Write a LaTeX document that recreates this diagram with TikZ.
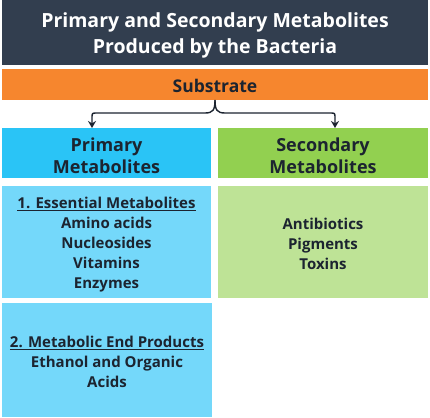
\documentclass[tikz,border=0pt]{standalone}
\usepackage{fontspec}
\setmainfont{Open Sans}
\usetikzlibrary{arrows.meta}
\definecolor{titlebg}{HTML}{323E4F}
\definecolor{orangebg}{HTML}{F6862E}
\definecolor{cyanbg}{HTML}{2AC4F6}
\definecolor{cyanlt}{HTML}{74D8FA}
\definecolor{greenbg}{HTML}{92D050}
\definecolor{greenlt}{HTML}{BEE396}
\definecolor{txt}{HTML}{1C2430}
\begin{document}
\begin{tikzpicture}[x=1pt,y=-1pt,
  box/.style={rectangle, inner sep=0pt, outer sep=0pt},
  lbl/.style={inner sep=0pt, align=center, text=txt},
  hdr/.style={lbl, font=\fontsize{18}{22}\selectfont\bfseries},
  lst/.style={lbl, font=\fontsize{15}{20}\selectfont\bfseries},
  conn/.style={line width=1.4pt, txt}]
\useasboundingbox (0,0) rectangle (430,417);
\fill[white] (0,0) rectangle (430,417);
% boxes
\node[box, fill=titlebg, minimum width=426pt, minimum height=65pt] (title) at (215,32.5) {};
\node[box, fill=orangebg, minimum width=426pt, minimum height=31pt] (sub) at (215,84.5) {};
\node[box, fill=cyanbg, minimum width=209pt, minimum height=50pt] (prim) at (106.5,153) {};
\node[box, fill=greenbg, minimum width=210pt, minimum height=50pt] (sec) at (323,153) {};
\node[box, fill=cyanlt, minimum width=209pt, minimum height=112pt] (ess) at (106.5,242) {};
\node[box, fill=greenlt, minimum width=210pt, minimum height=112pt] (secl) at (323,242) {};
\node[box, fill=cyanlt, minimum width=210pt, minimum height=114pt] (end) at (107,360) {};
% texts
\node[lbl, text=white, font=\fontsize{19.5}{26}\selectfont\bfseries] (titlet) at ([yshift=-3pt]title.center)
  {Primary and Secondary Metabolites\\Produced by the Bacteria};
\node[lbl, font=\fontsize{17.5}{20}\selectfont\bfseries] (subt) at ([yshift=-1pt]sub.center) {Substrate};
\node[hdr] (primt) at ([yshift=-3pt]prim.center) {Primary\\Metabolites};
\node[hdr] (sect) at ([yshift=-3pt]sec.center) {Secondary\\Metabolites};
\node[lst] (esst) at ([yshift=-3pt]ess.center)
  {\underline{1. Essential Metabolites}\\Amino acids\\Nucleosides\\Vitamins\\Enzymes};
\node[lst] (seclt) at ([yshift=-2pt]secl.center) {Antibiotics\\Pigments\\Toxins};
\node[lst] (endt) at ([yshift=-1.5pt]end.center)
  {\underline{2. Metabolic End Products}\\Ethanol and Organic\\Acids};
% connectors
\coordinate (bl) at (92,113);
\coordinate (br) at (335,113);
\draw[conn, -{Stealth[length=7pt,width=8pt]}] (sub.south) .. controls (215,110) and (213,113) .. (205,113)
  -- (97,113) .. controls (92,113) .. (92,118) -- (prim.north -| bl);
\draw[conn, -{Stealth[length=7pt,width=8pt]}] (sub.south) .. controls (215,110) and (217,113) .. (225,113)
  -- (330,113) .. controls (335,113) .. (335,118) -- (sec.north -| br);
\end{tikzpicture}
\end{document}
